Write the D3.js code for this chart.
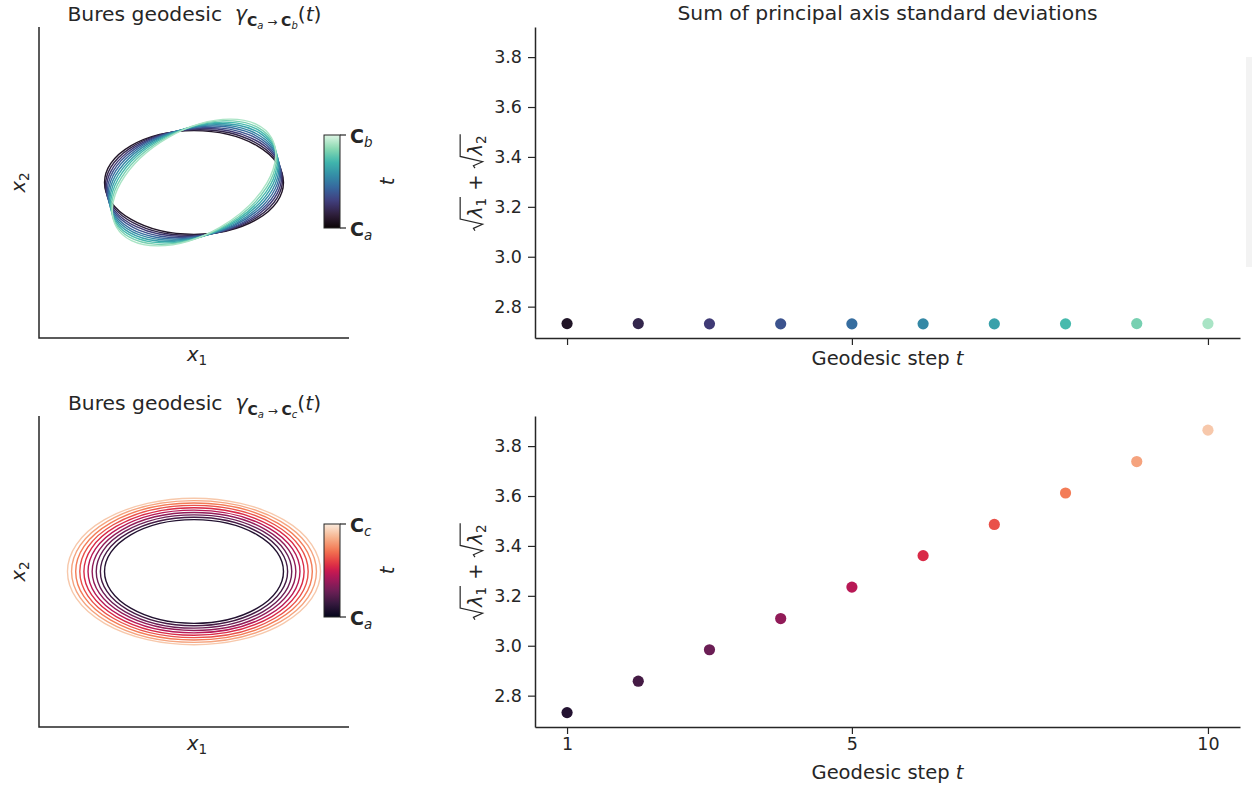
<!DOCTYPE html>
<html>
<head>
<meta charset="utf-8">
<script src="https://cdn.jsdelivr.net/npm/d3@7"></script>
<style>
  body { margin: 0; background: #ffffff; }
  svg text { font-family: "DejaVu Sans", sans-serif; fill: #262626; white-space: pre; }
</style>
</head>
<body>
<svg id="fig" width="1252" height="791"></svg>
<script>
// ---- data ------------------------------------------------------------
const steps = [1, 2, 3, 4, 5, 6, 7, 8, 9, 10];

// Geodesic C_a -> C_b (C_b is a rotated copy of C_a): 1-sigma ellipse per step
const rotMajor = [1.732, 1.715, 1.702, 1.693, 1.688, 1.688, 1.693, 1.702, 1.715, 1.732];
const rotMinor = [1.000, 1.016, 1.029, 1.038, 1.043, 1.043, 1.038, 1.029, 1.016, 1.000];
const rotAngle = [0.0, 3.0, 6.2, 9.6, 13.2, 16.8, 20.4, 23.8, 27.0, 30.0];   // degrees
const rotSumSd = [2.732, 2.732, 2.731, 2.731, 2.731, 2.731, 2.731, 2.731, 2.732, 2.732];

// Geodesic C_a -> C_c (C_c = 2 C_a): 1-sigma ellipse per step
const scaleMajor = [1.732, 1.812, 1.892, 1.971, 2.051, 2.131, 2.210, 2.290, 2.370, 2.449];
const scaleMinor = [1.000, 1.046, 1.092, 1.138, 1.184, 1.230, 1.276, 1.322, 1.368, 1.414];
const scaleSumSd = [2.732, 2.858, 2.984, 3.109, 3.235, 3.361, 3.486, 3.612, 3.738, 3.864];

const yTicks = [2.8, 3.0, 3.2, 3.4, 3.6, 3.8];
const xTicks = [1, 5, 10];

// colormap control points (mako / rocket)
const cmapPos = [0, 1 / 7, 2 / 7, 3 / 7, 0.5, 4 / 7, 5 / 7, 6 / 7, 1];
const makoColors = ["#0b0405", "#2e1e3b", "#413d7b", "#37659e", "#357ba2", "#348fa7", "#40b7ad", "#8bdab2", "#def5e5"];
const rocketColors = ["#03051a", "#35193e", "#701f57", "#ad1759", "#cb1b4f", "#e13342", "#f37651", "#f6b48f", "#faebdd"];

// ---- helpers ---------------------------------------------------------
const INK = "#262626";
const svg = d3.select("#fig");
const mako = d3.scaleLinear().domain(cmapPos).range(makoColors).interpolate(d3.interpolateRgb);
const rocket = d3.scaleLinear().domain(cmapPos).range(rocketColors).interpolate(d3.interpolateRgb);
const paletteIndex = d3.scaleLinear().domain([0, steps.length + 1]).range([0, 1]);

const FS_TITLE = 20.3, FS_LABEL = 19.5, FS_TICK = 17.5;

// faint strip at the right edge
svg.append("rect").attr("x", 1246).attr("y", 57).attr("width", 6).attr("height", 210)
  .attr("fill", "#f3f3f3");

function tspan(t, str, opt = {}) {
  const s = t.append("tspan").text(str);
  if (opt.size) s.attr("font-size", opt.size);
  if (opt.italic) s.attr("font-style", "italic");
  if (opt.bold) s.attr("font-weight", "bold");
  if (opt.dy) s.attr("dy", opt.dy);
  return s;
}

// title  "Bures geodesic  γ_{C_a → C_x}(t)"
function geodesicTitle(cx, y, target) {
  const t = svg.append("text").attr("x", cx).attr("y", y).attr("text-anchor", "middle")
    .attr("font-size", FS_TITLE);
  tspan(t, "Bures geodesic  ");
  tspan(t, "γ", { italic: true });
  tspan(t, "C", { bold: true, size: 14, dy: 5 });
  tspan(t, "a", { italic: true, size: 10, dy: 2.5 });
  tspan(t, " → ", { size: 12, dy: -2.5 });
  tspan(t, "C", { bold: true, size: 14 });
  tspan(t, target, { italic: true, size: 10, dy: 2.5 });
  tspan(t, "(", { size: FS_TITLE, dy: -7.5 });
  tspan(t, "t", { italic: true, size: FS_TITLE });
  tspan(t, ")", { size: FS_TITLE });
}

function varLabel(x, y, sub, rotate) {
  const g = svg.append("g").attr("transform", `translate(${x},${y})` + (rotate ? " rotate(-90)" : ""));
  const t = g.append("text").attr("text-anchor", "middle").attr("font-size", FS_LABEL);
  tspan(t, "x", { italic: true });
  tspan(t, sub, { size: 13.5, dy: 4 });
}

// sqrt(λ1) + sqrt(λ2), written along a rotated baseline
function sqrtLabel(cx, cy) {
  const fs = FS_LABEL, sub = 13.5;
  const g = svg.append("g").attr("transform", `translate(${cx},${cy}) rotate(-90)`);
  const inner = g.append("g");
  let x = 0;
  function put(str, size, opt = {}) {
    const t = inner.append("text").attr("x", x).attr("y", opt.dy || 0).attr("font-size", size).text(str);
    if (opt.italic) t.attr("font-style", "italic");
    x += t.node().getComputedTextLength();
  }
  function radical(body) {
    const x0 = x, rw = 0.6 * fs;
    x += rw + 1;
    body();
    x += 1;
    inner.append("path")
      .attr("d", `M${x0},${-0.36 * fs} L${x0 + 0.12 * fs},${-0.44 * fs} L${x0 + 0.33 * fs},${0.03 * fs} L${x0 + rw},${-1.12 * fs} H${x}`)
      .attr("fill", "none").attr("stroke", INK).attr("stroke-width", 1.2);
  }
  radical(() => { put("λ", fs, { italic: true }); put("1", sub, { dy: 4 }); });
  put(" + ", fs);
  radical(() => { put("λ", fs, { italic: true }); put("2", sub, { dy: 4 }); });
  inner.attr("transform", `translate(${-x / 2},0)`);
}

// ---- left panels: ellipses ------------------------------------------
function ellipsePanel(top, bottom, major, minor, angle, cmap, target) {
  const lx = d3.scaleLinear().domain([-3, 3]).range([39, 349]);
  const ly = d3.scaleLinear().domain([-3, 3]).range([bottom, top]);
  const g = svg.append("g");
  g.selectAll("ellipse").data(steps).join("ellipse")
    .attr("cx", lx(0)).attr("cy", ly(0))
    .attr("rx", (d, i) => lx(major[i]) - lx(0))
    .attr("ry", (d, i) => ly(0) - ly(minor[i]))
    .attr("transform", (d, i) => `rotate(${-angle[i]},${lx(0)},${ly(0)})`)
    .attr("fill", "none")
    .attr("stroke", (d, i) => cmap(paletteIndex(i + 1)))
    .attr("stroke-width", 1.4);

  // spines
  g.append("path").attr("d", `M39,${top} V${bottom} H349`)
    .attr("fill", "none").attr("stroke", INK).attr("stroke-width", 1.5);

  // colorbar
  const cb = { x: 324, w: 16, y0: top + 108, y1: top + 201 };
  const gid = "grad-" + target;
  const grad = svg.append("defs").append("linearGradient").attr("id", gid)
    .attr("x1", 0).attr("y1", 1).attr("x2", 0).attr("y2", 0);
  d3.range(0, 1.0001, 0.05).forEach(p => {
    grad.append("stop").attr("offset", p).attr("stop-color", cmap(p));
  });
  g.append("rect").attr("x", cb.x).attr("y", cb.y0).attr("width", cb.w).attr("height", cb.y1 - cb.y0)
    .attr("fill", `url(#${gid})`).attr("stroke", INK).attr("stroke-width", 1);
  [cb.y0, cb.y1].forEach(yy => {
    g.append("line").attr("x1", cb.x + cb.w).attr("x2", cb.x + cb.w + 6).attr("y1", yy).attr("y2", yy)
      .attr("stroke", INK).attr("stroke-width", 1.2);
  });
  [[cb.y0, target], [cb.y1, "a"]].forEach(([yy, s]) => {
    const t = g.append("text").attr("x", 350).attr("y", yy + 8).attr("font-size", 19);
    tspan(t, "C", { bold: true });
    tspan(t, s, { italic: true, size: 13.5, dy: 4 });
  });
  const tl = svg.append("g").attr("transform", `translate(394,${(cb.y0 + cb.y1) / 2}) rotate(-90)`);
  tl.append("text").attr("text-anchor", "middle").attr("font-size", FS_LABEL)
    .attr("font-style", "italic").text("t");

  varLabel(197, bottom + 23, "1", false);
  varLabel(25, (top + bottom) / 2, "2", true);
  geodesicTitle(194.5, top - 6, target);
}

ellipsePanel(27, 338, rotMajor, rotMinor, rotAngle, mako, "b");
ellipsePanel(416, 727, scaleMajor, scaleMinor, scaleMajor.map(() => 0), rocket, "c");

// ---- right panels: sum of principal-axis std devs --------------------
const allSums = rotSumSd.concat(scaleSumSd);
const yMin = d3.min(allSums), yMax = d3.max(allSums);
const yPad = (yMax - yMin) * 0.05;
const xPad = (d3.max(steps) - d3.min(steps)) * 0.05;
const rx = d3.scaleLinear().domain([d3.min(steps) - xPad, d3.max(steps) + xPad]).range([535, 1240]);

function sumPanel(top, bottom, values, cmap, showTickLabels) {
  const ry = d3.scaleLinear().domain([yMin - yPad, yMax + yPad]).range([bottom, top]);
  const g = svg.append("g");

  const ya = g.append("g").attr("transform", "translate(535,0)")
    .call(d3.axisLeft(ry).tickValues(yTicks).tickFormat(d3.format(".1f")).tickSize(7).tickSizeOuter(0).tickPadding(6));
  const xa = g.append("g").attr("transform", `translate(0,${bottom})`)
    .call(d3.axisBottom(rx).tickValues(xTicks).tickFormat(showTickLabels ? d3.format("d") : () => "")
      .tickSize(7).tickSizeOuter(0).tickPadding(4));
  [ya, xa].forEach(a => {
    a.select(".domain").attr("stroke", INK).attr("stroke-width", 1.5);
    a.selectAll(".tick line").attr("stroke", INK).attr("stroke-width", 1.2);
    a.selectAll(".tick text").attr("fill", INK).attr("font-size", FS_TICK)
      .attr("font-family", '"DejaVu Sans", sans-serif');
  });

  g.selectAll("circle").data(steps).join("circle")
    .attr("cx", d => rx(d))
    .attr("cy", (d, i) => ry(values[i]))
    .attr("r", 5.6)
    .attr("fill", (d, i) => cmap(paletteIndex(i + 1)));

  const xl = svg.append("text").attr("x", (535 + 1240) / 2).attr("y", bottom + (showTickLabels ? 52 : 27))
    .attr("text-anchor", "middle").attr("font-size", FS_LABEL);
  tspan(xl, "Geodesic step ");
  tspan(xl, "t", { italic: true });

  sqrtLabel(482, (top + bottom) / 2);
}

sumPanel(27, 338, rotSumSd, mako, false);
sumPanel(416, 727, scaleSumSd, rocket, true);

svg.append("text").attr("x", (535 + 1240) / 2).attr("y", 20).attr("text-anchor", "middle")
  .attr("font-size", FS_TITLE).text("Sum of principal axis standard deviations");
</script>
</body>
</html>
